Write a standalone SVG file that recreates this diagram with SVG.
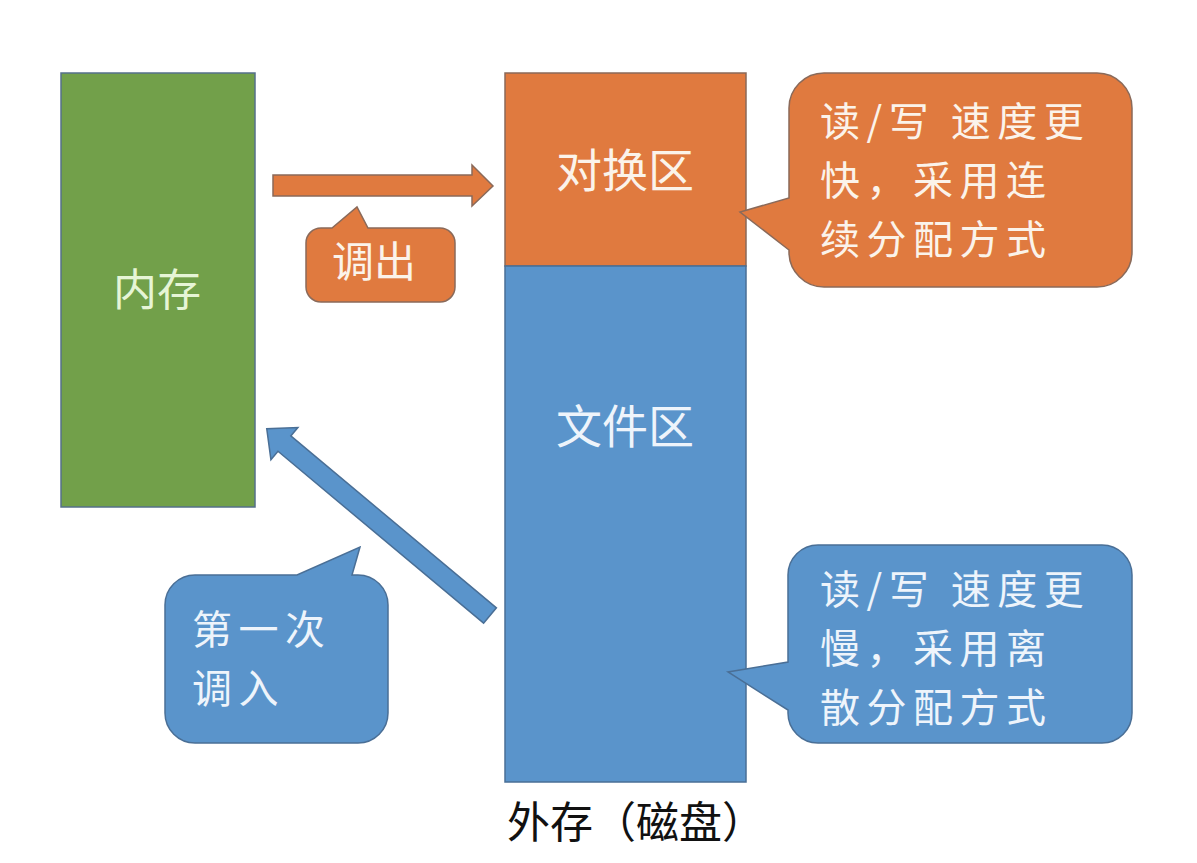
<svg xmlns="http://www.w3.org/2000/svg" width="1197" height="863" viewBox="0 0 1197 863">
<style>
text{font-family:"Noto Sans CJK SC","Noto Sans",sans-serif}
.g{fill:#72a04a;stroke:#56708a;stroke-width:1.5}
.o{fill:#e07a3f;stroke:#8a6a5a;stroke-width:1.5}
.b{fill:#5a94cb;stroke:#4a6f96;stroke-width:1.5}
.tw{fill:#fbf3ea;font-size:46px}
.tb{fill:#eef4fb;font-size:46px}
.tg{fill:#e6f5d6;font-size:44px}
.ml{font-size:40px;letter-spacing:6.5px}
</style>
<rect width="1197" height="863" fill="#ffffff"/>
<g id="memory">
<rect class="g" x="61" y="73" width="194" height="434"/>
<text class="tg" x="157" y="306" text-anchor="middle">内存</text>
</g>
<g id="swap">
<rect class="o" x="505" y="73" width="241" height="193"/>
<text class="tw" x="625" y="187" text-anchor="middle">对换区</text>
</g>
<g id="file">
<rect class="b" x="505" y="266" width="241" height="516"/>
<text class="tb" x="625" y="443" text-anchor="middle">文件区</text>
</g>
<g id="disk-label">
<text x="636" y="838" text-anchor="middle" style="font-size:43px;fill:#111">外存（磁盘）</text>
</g>
<g id="connectors">
<polygon class="o" points="273,175 472,175 472,165 493,186 472,206 472,196 273,196"/>
<polygon class="b" points="0,-10 268,-10 268,-21 291,0 268,21 268,10 0,10" transform="translate(490,615.5) rotate(219.9)"/>
</g>
<g id="callout-out">
<path class="o" d="M321,228 H332 L357,207 L368,228 H440 A15,15 0 0 1 455,243 V287 A15,15 0 0 1 440,302 H321 A15,15 0 0 1 306,287 V243 A15,15 0 0 1 321,228 Z"/>
<text class="tw" x="374" y="277" text-anchor="middle" style="font-size:42px">调出</text>
</g>
<g id="callout-swap">
<path class="o" d="M824,73 H1097 A35,35 0 0 1 1132,108 V252 A35,35 0 0 1 1097,287 H824 A35,35 0 0 1 789,252 V250 L740,212 L789,198 V108 A35,35 0 0 1 824,73 Z"/>
<text class="tw ml" x="820" y="136">读/写 速度更</text>
<text class="tw ml" x="820" y="195">快，采用连</text>
<text class="tw ml" x="820" y="254">续分配方式</text>
</g>
<g id="callout-file">
<path class="b" d="M818,545 H1102 A30,30 0 0 1 1132,575 V713 A30,30 0 0 1 1102,743 H818 A30,30 0 0 1 788,713 V710 L728,672 L788,662 V575 A30,30 0 0 1 818,545 Z"/>
<text class="tb ml" x="820" y="604">读/写 速度更</text>
<text class="tb ml" x="820" y="663">慢，采用离</text>
<text class="tb ml" x="820" y="722">散分配方式</text>
</g>
<g id="callout-in">
<path class="b" d="M195,575 H297 L360,547 L352,575 H358 A30,30 0 0 1 388,605 V713 A30,30 0 0 1 358,743 H195 A30,30 0 0 1 165,713 V605 A30,30 0 0 1 195,575 Z"/>
<text class="tb ml" x="192" y="644">第一次</text>
<text class="tb ml" x="192" y="703">调入</text>
</g>
</svg>
